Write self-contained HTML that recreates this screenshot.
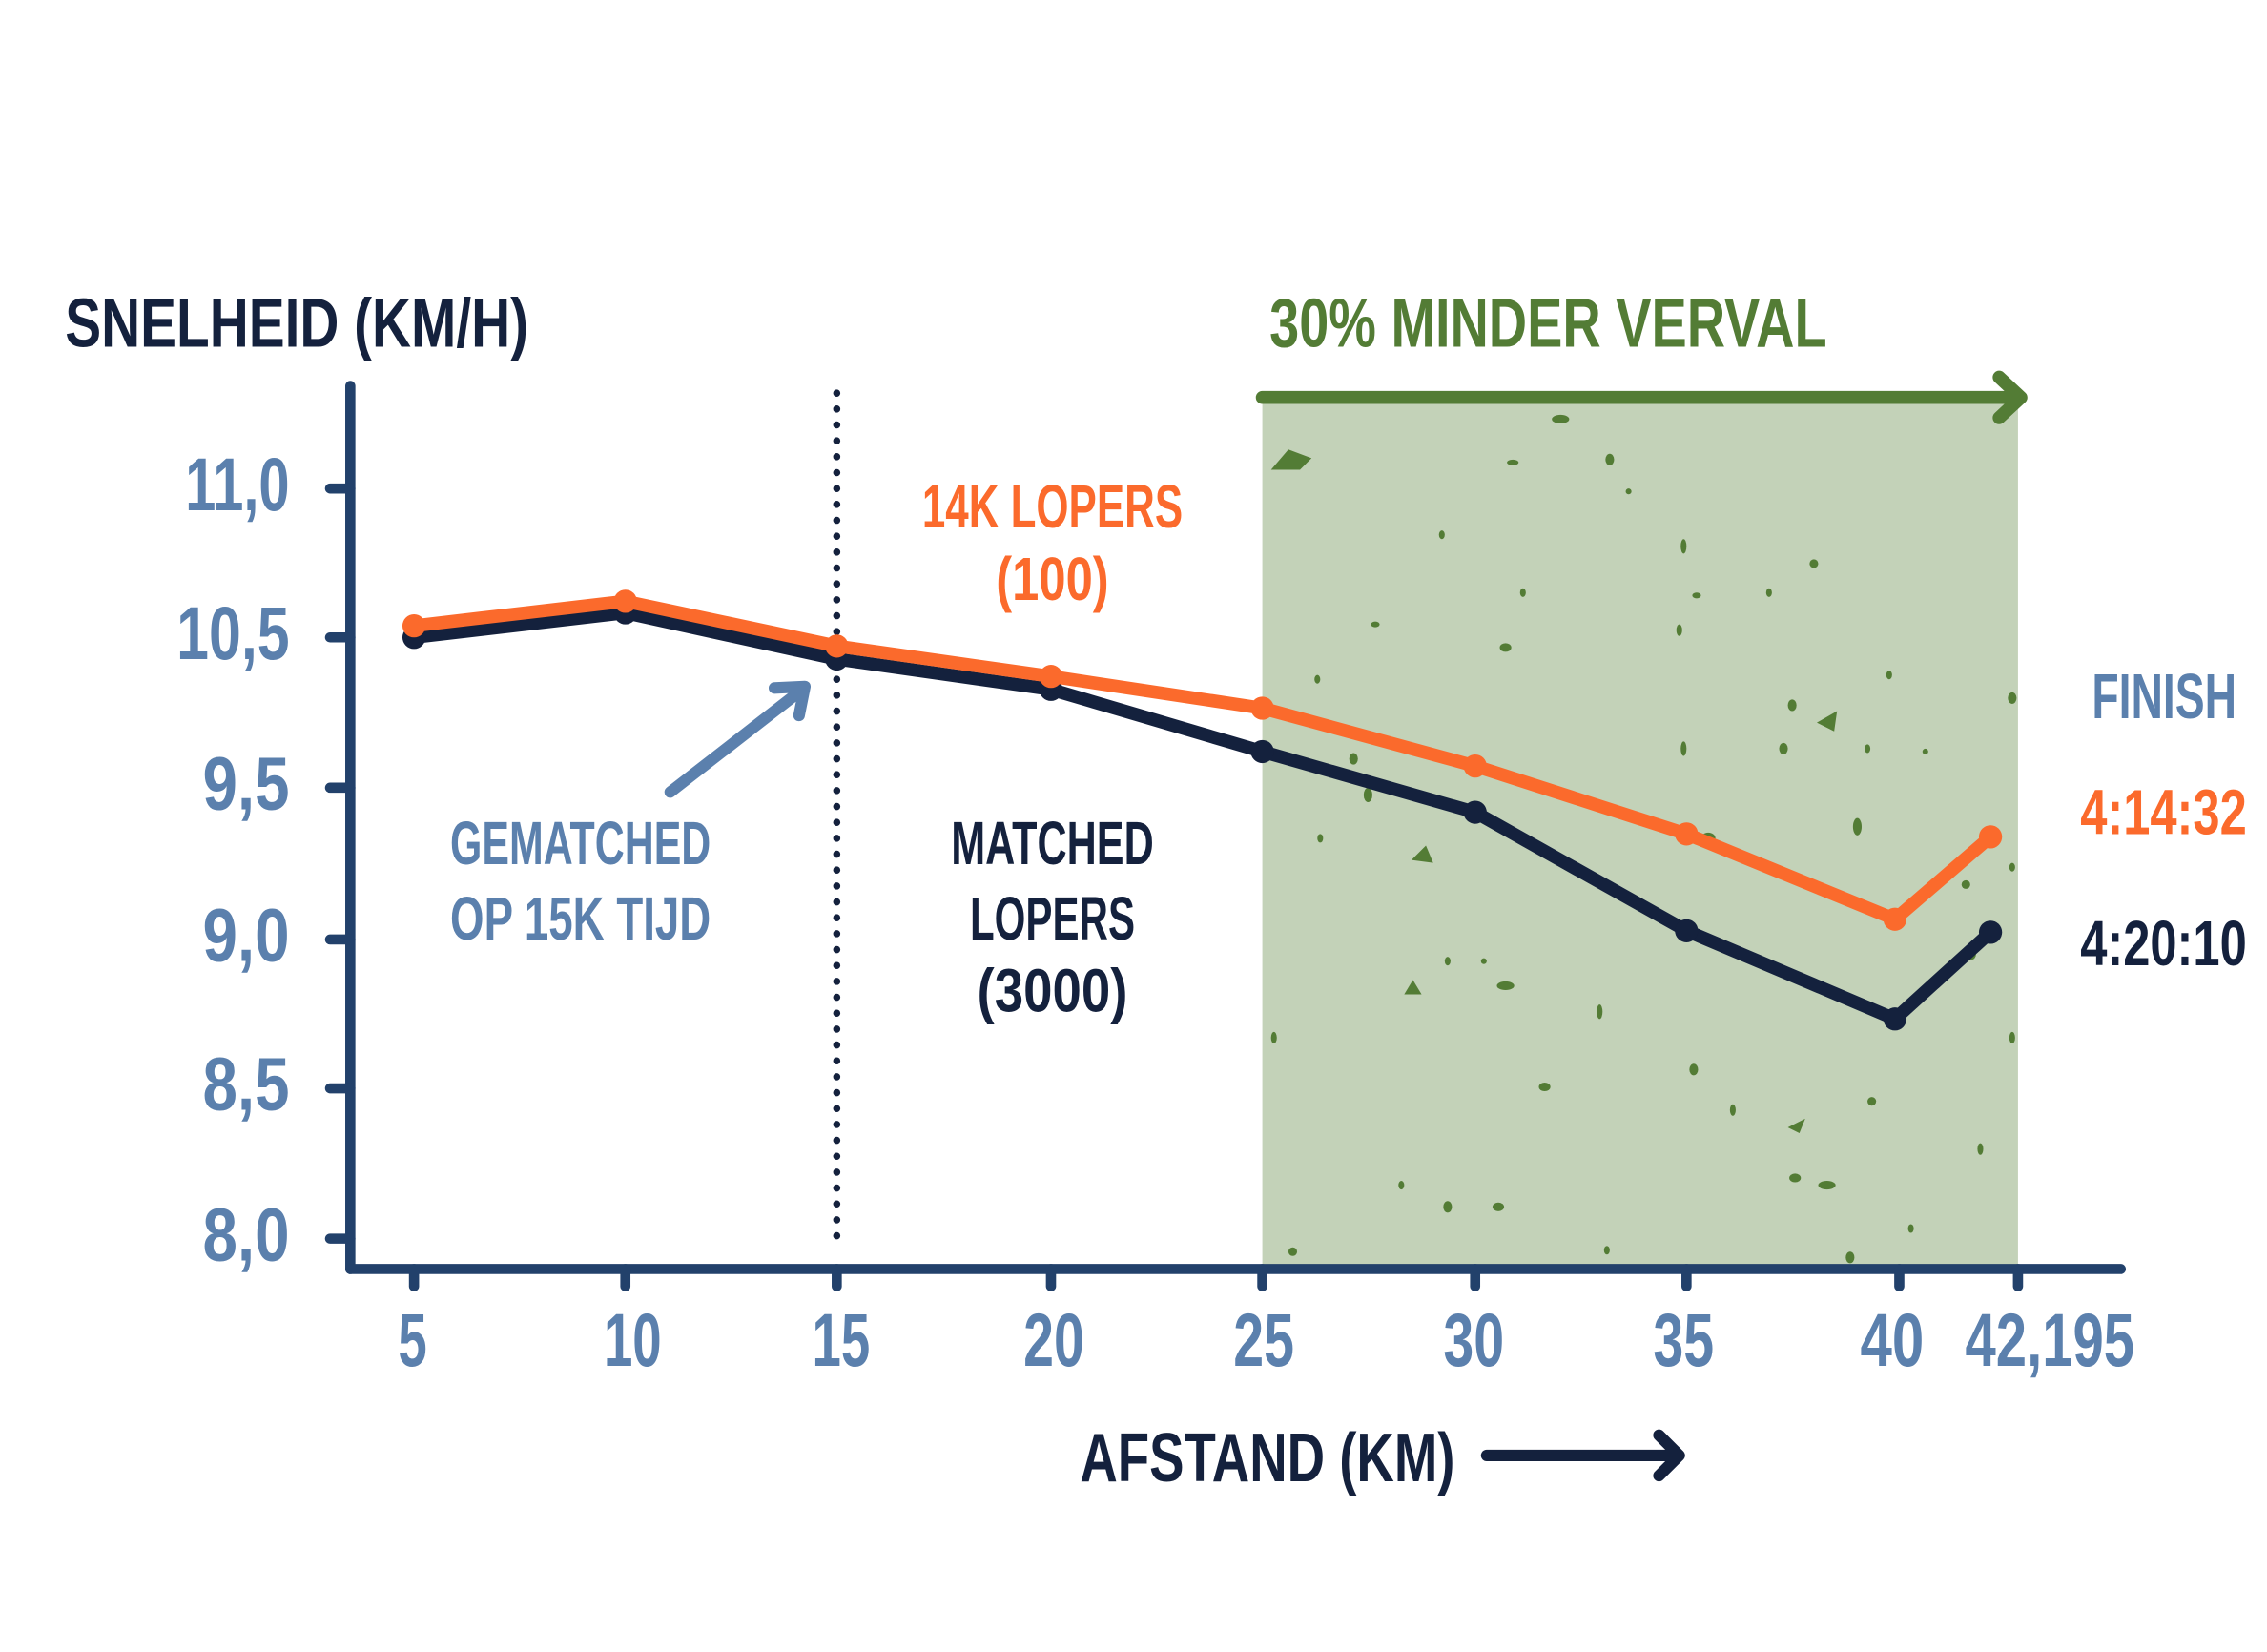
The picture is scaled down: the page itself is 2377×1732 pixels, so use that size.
<!DOCTYPE html>
<html><head><meta charset="utf-8"><style>
html,body{margin:0;padding:0;background:#fff;}
svg{display:block;}
text{font-family:"Liberation Sans",sans-serif;font-weight:bold;}
</style></head><body>
<svg width="2377" height="1732" viewBox="0 0 1566 1143" preserveAspectRatio="none" xmlns="http://www.w3.org/2000/svg">
<rect width="1566" height="1143" fill="#fff"/>
<rect x="872" y="275" width="522" height="603" fill="#c3d2b8"/>
<g fill="#537c35">
<path d="M878 325 l12 -14 l16 6 l-8 8 z"/>
<ellipse cx="1078" cy="290" rx="6" ry="3"/><ellipse cx="1045" cy="320" rx="4" ry="2"/><ellipse cx="1112" cy="318" rx="3" ry="4"/>
<ellipse cx="996" cy="370" rx="2" ry="3"/><ellipse cx="1163" cy="378" rx="2" ry="5"/><ellipse cx="1052" cy="410" rx="2" ry="3"/>
<ellipse cx="950" cy="432" rx="3" ry="2"/><ellipse cx="1172" cy="412" rx="3" ry="2"/><ellipse cx="1222" cy="410" rx="2" ry="3"/>
<ellipse cx="1040" cy="448" rx="4" ry="3"/><ellipse cx="1160" cy="436" rx="2" ry="4"/><ellipse cx="1305" cy="467" rx="2" ry="3"/>
<path d="M1255 500 l14 -8 l-2 14 z"/><ellipse cx="1238" cy="488" rx="3" ry="4"/><ellipse cx="1163" cy="518" rx="2" ry="5"/>
<ellipse cx="1232" cy="518" rx="3" ry="4"/><ellipse cx="1290" cy="518" rx="2" ry="3"/><ellipse cx="1390" cy="483" rx="3" ry="4"/>
<ellipse cx="935" cy="525" rx="3" ry="4"/><ellipse cx="945" cy="550" rx="3" ry="5"/><ellipse cx="962" cy="545" rx="3" ry="3"/>
<ellipse cx="912" cy="580" rx="2" ry="3"/><path d="M975 595 l10 -10 l5 12 z"/><ellipse cx="1180" cy="580" rx="5" ry="4"/>
<ellipse cx="1283" cy="572" rx="3" ry="6"/><ellipse cx="1390" cy="600" rx="2" ry="3"/><ellipse cx="1358" cy="612" rx="3" ry="3"/>
<ellipse cx="1040" cy="682" rx="6" ry="3"/><path d="M970 688 l6 -10 l6 10 z"/><ellipse cx="1105" cy="700" rx="2" ry="5"/>
<ellipse cx="1000" cy="665" rx="2" ry="3"/><ellipse cx="1025" cy="665" rx="2" ry="2"/><ellipse cx="1362" cy="660" rx="3" ry="4"/>
<ellipse cx="880" cy="718" rx="2" ry="4"/><ellipse cx="1067" cy="752" rx="4" ry="3"/><ellipse cx="1170" cy="740" rx="3" ry="4"/>
<path d="M1235 780 l12 -6 l-4 10 z"/><ellipse cx="1293" cy="762" rx="3" ry="3"/><ellipse cx="1197" cy="768" rx="2" ry="4"/>
<ellipse cx="1240" cy="815" rx="4" ry="3"/><ellipse cx="1262" cy="820" rx="6" ry="3"/><ellipse cx="1368" cy="795" rx="2" ry="4"/>
<ellipse cx="1000" cy="835" rx="3" ry="4"/><ellipse cx="1035" cy="835" rx="4" ry="3"/><ellipse cx="968" cy="820" rx="2" ry="3"/>
<ellipse cx="1278" cy="870" rx="3" ry="4"/><ellipse cx="893" cy="866" rx="3" ry="3"/><ellipse cx="1110" cy="865" rx="2" ry="3"/>
<ellipse cx="1320" cy="850" rx="2" ry="3"/><ellipse cx="1390" cy="718" rx="2" ry="4"/><ellipse cx="1330" cy="520" rx="2" ry="2"/>
<ellipse cx="910" cy="470" rx="2" ry="3"/><ellipse cx="1125" cy="340" rx="2" ry="2"/><ellipse cx="1253" cy="390" rx="3" ry="3"/>
</g>
<g stroke="#537c35" stroke-width="9" stroke-linecap="round" stroke-linejoin="round" fill="none">
<line x1="872" y1="275" x2="1395" y2="275"/><polyline points="1381,261 1396,275 1381,289"/>
</g>
<line x1="578" y1="272" x2="578" y2="865" stroke="#14213d" stroke-width="5" stroke-dasharray="0 11" stroke-linecap="round"/>
<g stroke="#22416b" stroke-width="7" stroke-linecap="round">
<line x1="242" y1="267" x2="242" y2="878"/><line x1="242" y1="878" x2="1465" y2="878"/>
<line x1="228" y1="338" x2="242" y2="338"/><line x1="228" y1="441" x2="242" y2="441"/><line x1="228" y1="545" x2="242" y2="545"/>
<line x1="228" y1="650" x2="242" y2="650"/><line x1="228" y1="753" x2="242" y2="753"/><line x1="228" y1="857" x2="242" y2="857"/>
<line x1="286" y1="878" x2="286" y2="890"/><line x1="432" y1="878" x2="432" y2="890"/><line x1="578" y1="878" x2="578" y2="890"/>
<line x1="726" y1="878" x2="726" y2="890"/><line x1="872" y1="878" x2="872" y2="890"/><line x1="1019" y1="878" x2="1019" y2="890"/>
<line x1="1165" y1="878" x2="1165" y2="890"/><line x1="1312" y1="878" x2="1312" y2="890"/><line x1="1394" y1="878" x2="1394" y2="890"/>
</g>
<g stroke="#14213d" stroke-width="9" fill="none" stroke-linejoin="round">
<polyline points="286,441 432,424 578,456 726,477 872,520 1019,562 1165,644 1309,705 1375,645"/></g>
<g fill="#14213d"><circle cx="286" cy="441" r="8"/><circle cx="432" cy="424" r="8"/><circle cx="578" cy="456" r="8"/><circle cx="726" cy="477" r="8"/><circle cx="872" cy="520" r="8"/><circle cx="1019" cy="562" r="8"/><circle cx="1165" cy="644" r="8"/><circle cx="1309" cy="705" r="8"/><circle cx="1375" cy="645" r="8"/></g>
<g stroke="#fb6a2c" stroke-width="9" fill="none" stroke-linejoin="round">
<polyline points="286,433 432,416 578,447 726,468 872,490 1019,530 1165,577 1309,636 1375,579"/></g>
<g fill="#fb6a2c"><circle cx="286" cy="433" r="8"/><circle cx="432" cy="416" r="8"/><circle cx="578" cy="447" r="8"/><circle cx="726" cy="468" r="8"/><circle cx="872" cy="490" r="8"/><circle cx="1019" cy="530" r="8"/><circle cx="1165" cy="577" r="8"/><circle cx="1309" cy="636" r="8"/><circle cx="1375" cy="579" r="8"/></g>
<g stroke="#5b80ad" stroke-width="8" stroke-linecap="round" stroke-linejoin="round" fill="none">
<line x1="463" y1="548" x2="553" y2="478"/><polyline points="535,476 556,475 552,495"/></g>
<text x="45" y="240" font-size="48" fill="#14213d" textLength="320" lengthAdjust="spacingAndGlyphs">SNELHEID (KM/H)</text>
<text x="877" y="240" font-size="48" fill="#537c35" textLength="385" lengthAdjust="spacingAndGlyphs">30% MINDER VERVAL</text>
<g font-size="52" fill="#5b80ad" text-anchor="end">
<text x="200" y="353" textLength="72" lengthAdjust="spacingAndGlyphs">11,0</text>
<text x="200" y="456" textLength="78" lengthAdjust="spacingAndGlyphs">10,5</text>
<text x="200" y="560" textLength="60" lengthAdjust="spacingAndGlyphs">9,5</text>
<text x="200" y="665" textLength="60" lengthAdjust="spacingAndGlyphs">9,0</text>
<text x="200" y="768" textLength="60" lengthAdjust="spacingAndGlyphs">8,5</text>
<text x="200" y="872" textLength="60" lengthAdjust="spacingAndGlyphs">8,0</text>
</g>
<g font-size="52" fill="#5b80ad" text-anchor="middle">
<text x="285" y="945" textLength="20" lengthAdjust="spacingAndGlyphs">5</text>
<text x="437" y="945" textLength="40" lengthAdjust="spacingAndGlyphs">10</text>
<text x="581" y="945" textLength="40" lengthAdjust="spacingAndGlyphs">15</text>
<text x="728" y="945" textLength="42" lengthAdjust="spacingAndGlyphs">20</text>
<text x="873" y="945" textLength="42" lengthAdjust="spacingAndGlyphs">25</text>
<text x="1018" y="945" textLength="42" lengthAdjust="spacingAndGlyphs">30</text>
<text x="1163" y="945" textLength="42" lengthAdjust="spacingAndGlyphs">35</text>
<text x="1307" y="945" textLength="44" lengthAdjust="spacingAndGlyphs">40</text>
<text x="1416" y="945" textLength="117" lengthAdjust="spacingAndGlyphs">42,195</text>
</g>
<g font-size="42" text-anchor="middle">
<text x="727" y="365" fill="#fb6a2c" textLength="180" lengthAdjust="spacingAndGlyphs">14K LOPERS</text>
<text x="727" y="415" fill="#fb6a2c" textLength="78" lengthAdjust="spacingAndGlyphs">(100)</text>
<text x="401" y="598" fill="#5b80ad" textLength="180" lengthAdjust="spacingAndGlyphs">GEMATCHED</text>
<text x="401" y="650" fill="#5b80ad" textLength="180" lengthAdjust="spacingAndGlyphs">OP 15K TIJD</text>
<text x="727" y="598" fill="#14213d" textLength="140" lengthAdjust="spacingAndGlyphs">MATCHED</text>
<text x="727" y="650" fill="#14213d" textLength="114" lengthAdjust="spacingAndGlyphs">LOPERS</text>
<text x="727" y="700" fill="#14213d" textLength="104" lengthAdjust="spacingAndGlyphs">(3000)</text>
</g>
<g font-size="44">
<text x="1445" y="497" fill="#5b80ad" textLength="100" lengthAdjust="spacingAndGlyphs">FINISH</text>
<text x="1437" y="577" fill="#fb6a2c" textLength="115" lengthAdjust="spacingAndGlyphs">4:14:32</text>
<text x="1437" y="668" fill="#14213d" textLength="115" lengthAdjust="spacingAndGlyphs">4:20:10</text>
</g>
<text x="746" y="1025" font-size="48" fill="#14213d" textLength="259" lengthAdjust="spacingAndGlyphs">AFSTAND (KM)</text>
<g stroke="#14213d" stroke-width="8" stroke-linecap="round" stroke-linejoin="round" fill="none">
<line x1="1027" y1="1007" x2="1158" y2="1007"/><polyline points="1146,993 1160,1007 1146,1021"/></g>
</svg>
</body></html>
